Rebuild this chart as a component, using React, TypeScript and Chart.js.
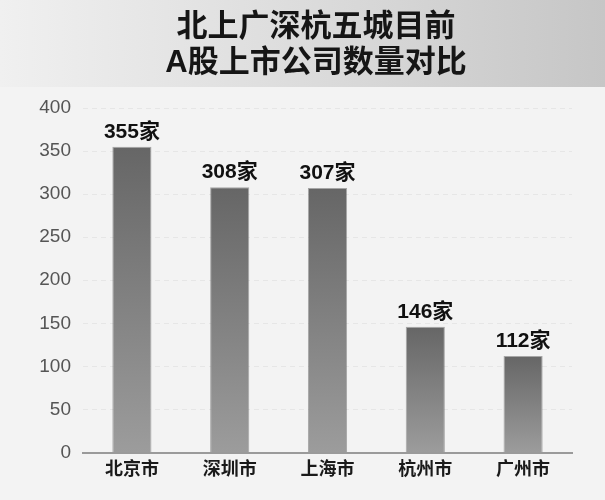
import { useEffect, useRef } from "react";
import { Chart, registerables } from "chart.js";
import type { ChartConfiguration, Plugin, ScriptableContext } from "chart.js";

Chart.register(...registerables);

const TITLE = ["北上广深杭五城目前", "A股上市公司数量对比"];
const CITIES = ["北京市", "深圳市", "上海市", "杭州市", "广州市"];
const COMPANIES = [355, 308, 307, 146, 112];
const UNIT = "家";
const Y_MAX = 400;
const Y_STEP = 50;

const FONT = "'Liberation Sans', 'Noto Sans CJK SC', sans-serif";

// page background + grey title banner
const bannerPlugin: Plugin<"bar"> = {
  id: "banner",
  beforeDraw(chart) {
    const { ctx, width } = chart;
    ctx.save();
    ctx.fillStyle = "#f3f3f3";
    ctx.fillRect(0, 0, width, chart.height);
    const g = ctx.createLinearGradient(0, 0, width, 0);
    g.addColorStop(0, "#f0f0f0");
    g.addColorStop(0.5, "#dcdcdc");
    g.addColorStop(1, "#c6c6c6");
    ctx.fillStyle = g;
    ctx.fillRect(0, 0, width, 87);
    ctx.fillStyle = "#151515";
    ctx.font = `bold 31px ${FONT}`;
    ctx.textAlign = "center";
    ctx.textBaseline = "middle";
    ctx.fillText(TITLE[0], 316, 27);
    ctx.fillText(TITLE[1], 316, 63);
    ctx.restore();
  },
};

// value labels above bars
const valuePlugin: Plugin<"bar"> = {
  id: "values",
  afterDatasetsDraw(chart) {
    const { ctx } = chart;
    const meta = chart.getDatasetMeta(0);
    ctx.save();
    ctx.fillStyle = "#111";
    ctx.font = `bold 21px ${FONT}`;
    ctx.textAlign = "center";
    ctx.textBaseline = "alphabetic";
    meta.data.forEach((bar, i) => {
      ctx.fillText(`${COMPANIES[i]}${UNIT}`, bar.x, bar.y - 9);
    });
    ctx.restore();
  },
};

export default function App() {
  const canvasRef = useRef<HTMLCanvasElement | null>(null);

  useEffect(() => {
    document.body.style.margin = "0";
    const ctx = canvasRef.current!.getContext("2d")!;

    const barGradient = (c: ScriptableContext<"bar">) => {
      const { chart, parsed } = c;
      const yScale = chart.scales.y;
      if (!chart.chartArea || !yScale || !parsed) return "#808080";
      const yTop = yScale.getPixelForValue((parsed as any).y ?? 0);
      const yBase = yScale.getPixelForValue(0);
      if (!Number.isFinite(yTop) || !Number.isFinite(yBase)) return "#808080";
      const g = chart.ctx.createLinearGradient(0, yTop, 0, yBase);
      g.addColorStop(0, "#666666");
      g.addColorStop(1, "#9c9c9c");
      return g;
    };

    const config: ChartConfiguration<"bar", number[], string> = {
      type: "bar",
      data: {
        labels: CITIES,
        datasets: [
          {
            data: COMPANIES,
            backgroundColor: barGradient,
            borderColor: "rgba(90,90,90,0.5)",
            borderWidth: 1,
            categoryPercentage: 1,
            barPercentage: 0.4,
          },
        ],
      },
      options: {
        responsive: false,
        animation: false,
        layout: { padding: { top: 108, right: 33, bottom: 0, left: 0 } },
        plugins: {
          legend: { display: false },
          title: { display: false },
          tooltip: { enabled: false },
        },
        scales: {
          x: {
            grid: { display: false, drawTicks: false },
            border: { display: true, color: "#9a9a9a", width: 2 },
            ticks: {
              color: "#1a1a1a",
              padding: 7,
              font: { family: FONT, size: 18, weight: "bold" },
            },
            afterFit(scale) {
              scale.height = 47.5;
            },
          },
          y: {
            min: 0,
            max: Y_MAX,
            ticks: {
              stepSize: Y_STEP,
              color: "#555",
              padding: 12,
              font: { family: FONT, size: 19 },
            },
            grid: { color: "#e6e6e6", drawTicks: false, lineWidth: 1 },
            border: { display: false, dash: [5, 4] },
            afterFit(scale) {
              scale.width = 83;
            },
          },
        },
      },
      plugins: [bannerPlugin, valuePlugin],
    };

    const chart = new Chart(ctx, config);
    return () => chart.destroy();
  }, []);

  return (
    <div style={{ width: 605, height: 500 }}>
      <canvas ref={canvasRef} width={605} height={500} />
    </div>
  );
}
